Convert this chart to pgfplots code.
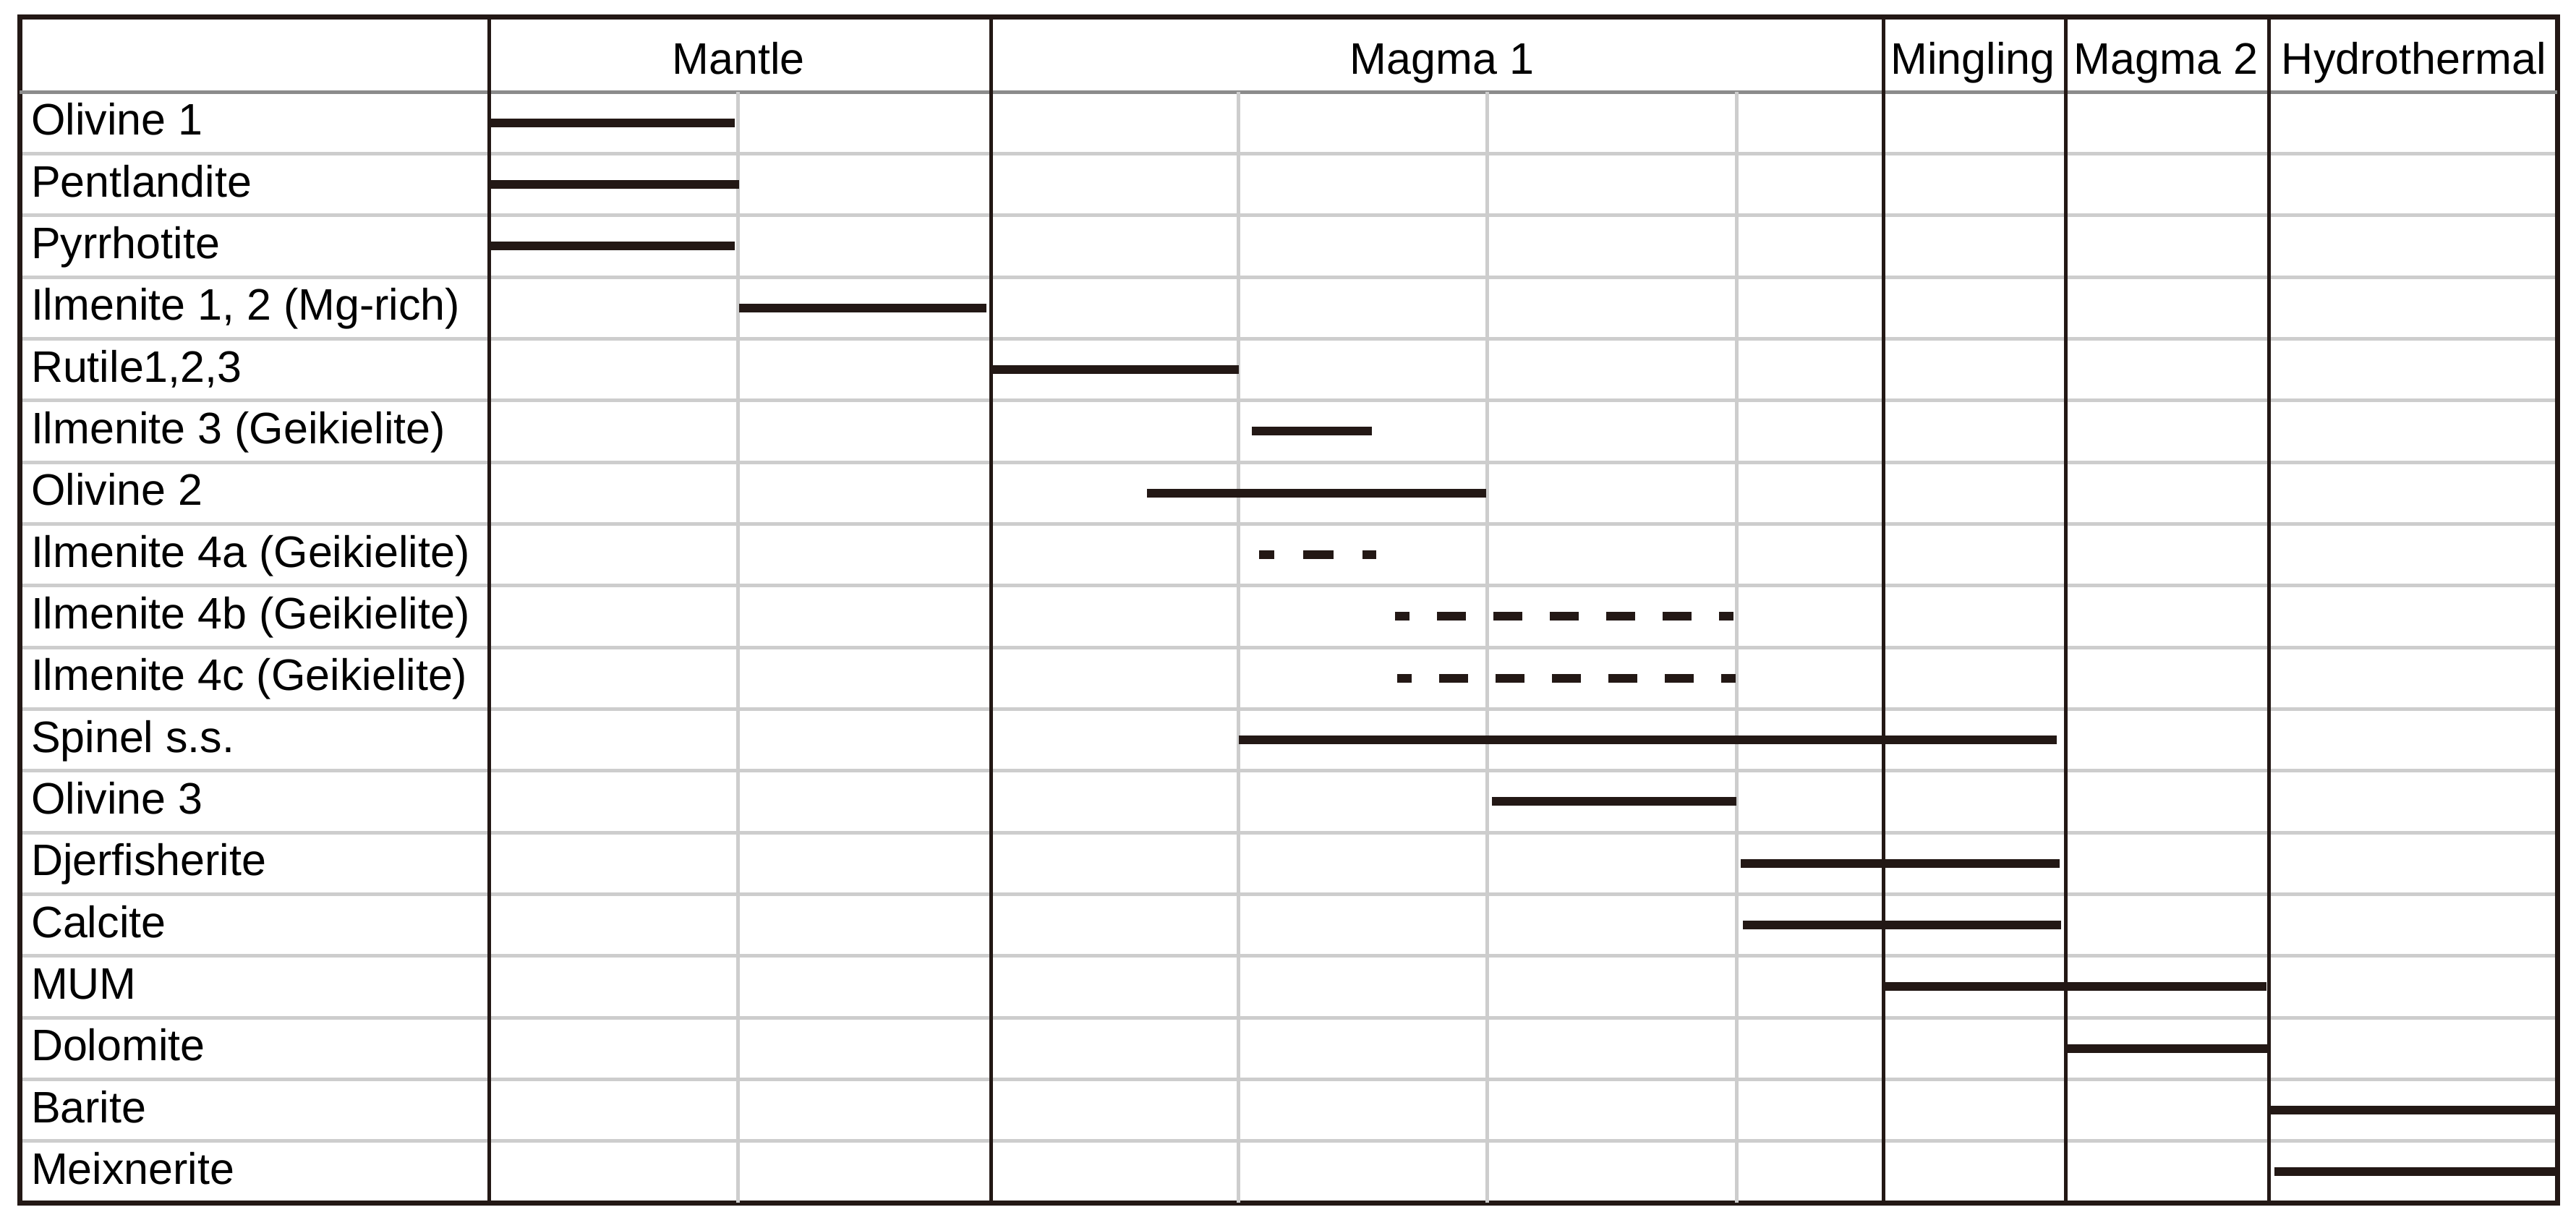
\documentclass[border=0pt]{standalone}
\usepackage{fontspec}
\setmainfont{Liberation Sans}
\usepackage{pgfplots}
\pgfplotsset{compat=1.18}
\definecolor{dk}{HTML}{231815}
\definecolor{rowgray}{HTML}{CDCDCD}
\definecolor{hdrgray}{HTML}{8C8C8C}
\newcommand{\tabfont}{\fontsize{6.1}{7}\selectfont}
\begin{document}
\begin{tikzpicture}
\useasboundingbox (-2.7pt,-3.4pt) rectangle (353.5pt,166.3pt);
\begin{axis}[
  at={(0,0)}, anchor=south west,
  scale only axis, width=350.9pt, height=164pt,
  xmin=27, xmax=3536, ymin=0, ymax=19.2188,
  xtick=\empty,
  ytick={0.5,1.5,...,17.5},
  yticklabels={Meixnerite,Barite,Dolomite,MUM,Calcite,Djerfisherite,Olivine 3,Spinel s.s.,{Ilmenite 4c (Geikielite)},{Ilmenite 4b (Geikielite)},{Ilmenite 4a (Geikielite)},Olivine 2,{Ilmenite 3 (Geikielite)},{Rutile1,2,3},{Ilmenite 1, 2 (Mg-rich)},Pyrrhotite,Pentlandite,Olivine 1},
  minor ytick={1,2,...,17},
  yminorgrids,
  minor grid style={color=rowgray, line width=0.5pt},
  major tick length=0pt, minor tick length=0pt,
  yticklabel style={anchor=base west, inner sep=0pt, xshift=1.4pt, yshift=-1.7pt, font=\tabfont, text=black},
  axis line style={line width=0.7pt, color=dk},
  clip=false,
  bar/.style={dk, line width=1.2pt, forget plot},
]
% header separator
\addplot[hdrgray, line width=0.5pt] coordinates {(27,18) (3536,18)};
% light vertical grid lines
\addplot[rowgray, line width=0.5pt] coordinates {(1020,0) (1020,18)};
\addplot[rowgray, line width=0.5pt] coordinates {(1712,0) (1712,18)};
\addplot[rowgray, line width=0.5pt] coordinates {(2056,0) (2056,18)};
\addplot[rowgray, line width=0.5pt] coordinates {(2401,0) (2401,18)};
% black column dividers
\addplot[dk, line width=0.5pt] coordinates {(676,0) (676,19.2188)};
\addplot[dk, line width=0.5pt] coordinates {(1370,0) (1370,19.2188)};
\addplot[dk, line width=0.5pt] coordinates {(2604,0) (2604,19.2188)};
\addplot[dk, line width=0.5pt] coordinates {(2856,0) (2856,19.2188)};
\addplot[dk, line width=0.5pt] coordinates {(3137,0) (3137,19.2188)};
% bars
\addplot[bar] coordinates {(676,17.5) (1016,17.5)};
\addplot[bar] coordinates {(676,16.5) (1022,16.5)};
\addplot[bar] coordinates {(676,15.5) (1016,15.5)};
\addplot[bar] coordinates {(1022,14.5) (1364,14.5)};
\addplot[bar] coordinates {(1372,13.5) (1713,13.5)};
\addplot[bar] coordinates {(1731,12.5) (1897,12.5)};
\addplot[bar] coordinates {(1586,11.5) (2055,11.5)};
\addplot[bar, dash pattern=on 4.2pt off 4pt, dash phase=2.1pt] coordinates {(1741,10.5) (1903,10.5)};
\addplot[bar, dash pattern=on 4pt off 3.8pt, dash phase=2pt] coordinates {(1929,9.5) (2397,9.5)};
\addplot[bar, dash pattern=on 4pt off 3.8pt, dash phase=2pt] coordinates {(1932,8.5) (2400,8.5)};
\addplot[bar] coordinates {(1713,7.5) (2844,7.5)};
\addplot[bar] coordinates {(2063,6.5) (2401,6.5)};
\addplot[bar] coordinates {(2407,5.5) (2848,5.5)};
\addplot[bar] coordinates {(2410,4.5) (2850,4.5)};
\addplot[bar] coordinates {(2606,3.5) (3134,3.5)};
\addplot[bar] coordinates {(2858,2.5) (3136,2.5)};
\addplot[bar] coordinates {(3140,1.5) (3540,1.5)};
\addplot[bar] coordinates {(3145,0.5) (3538,0.5)};
% header labels
\node[anchor=base, font=\tabfont, inner sep=0pt] at (axis cs:1021,18.29) {Mantle};
\node[anchor=base, font=\tabfont, inner sep=0pt] at (axis cs:1994,18.29) {Magma 1};
\node[anchor=base, font=\tabfont, inner sep=0pt] at (axis cs:2728,18.29) {Mingling};
\node[anchor=base, font=\tabfont, inner sep=0pt] at (axis cs:2995,18.29) {Magma 2};
\node[anchor=base, font=\tabfont, inner sep=0pt] at (axis cs:3338,18.29) {Hydrothermal};
\end{axis}
\end{tikzpicture}
\end{document}
